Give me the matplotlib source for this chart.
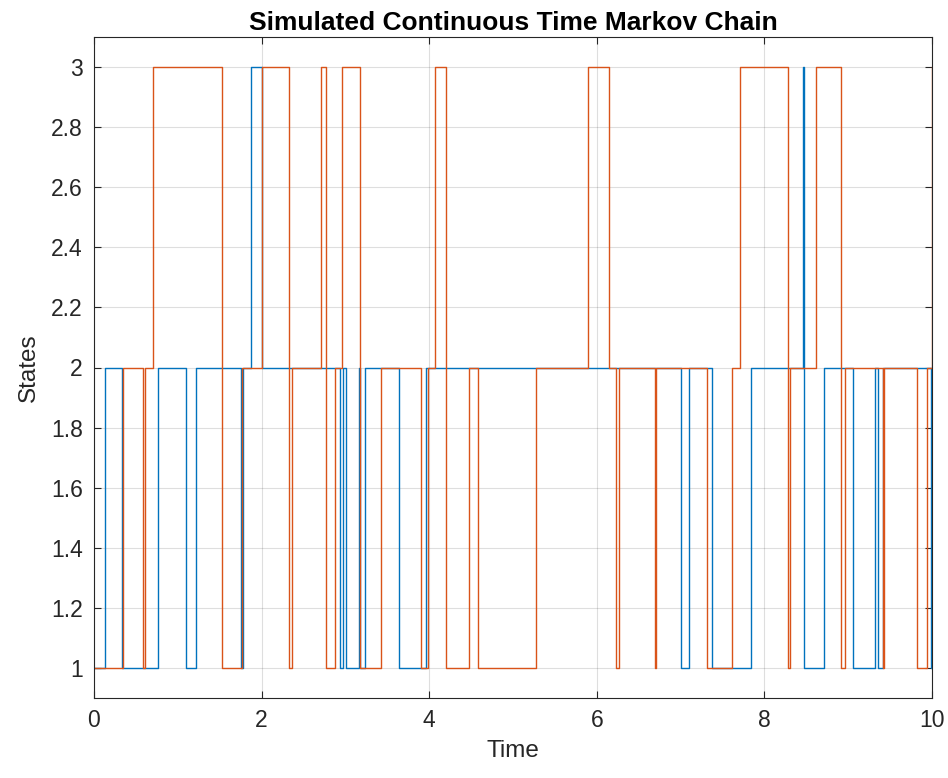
import numpy as np
import matplotlib
matplotlib.use("Agg")
import matplotlib.pyplot as plt

# jump times and the state entered at each time (stairs, post)
t1 = [0, 0.13, 0.335, 0.76, 1.10, 1.22, 1.755, 1.775, 1.873, 2.005, 2.93, 2.975,
      3.007, 3.16, 3.17, 3.23, 3.64, 3.96, 7.01, 7.10, 7.375, 7.84, 8.455, 8.475,
      8.71, 9.06, 9.32, 9.36, 9.42, 9.985, 10]
s1 = [1, 2, 1, 2, 1, 2, 1, 2, 3, 2, 1, 2,
      1, 2, 1, 2, 1, 2, 1, 2, 1, 2, 3, 1,
      2, 1, 2, 1, 2, 1, 1]

t2 = [0, 0.35, 0.58, 0.61, 0.71, 1.53, 1.765, 2.01, 2.325, 2.358, 2.713, 2.768,
      2.876, 2.963, 3.175, 3.42, 3.906, 3.985, 4.07, 4.20, 4.47, 4.58, 5.27, 5.89,
      6.15, 6.23, 6.27, 6.69, 6.71, 7.31, 7.61, 7.71, 8.285, 8.31, 8.61, 8.915,
      8.96, 9.41, 9.43, 9.82, 9.945, 9.995, 10]
s2 = [1, 2, 1, 2, 3, 1, 2, 3, 1, 2, 3, 1,
      2, 3, 1, 2, 1, 2, 3, 1, 2, 1, 2, 3,
      2, 1, 2, 1, 2, 1, 2, 3, 1, 2, 3, 1,
      2, 1, 2, 1, 2, 3, 3]

plt.rcParams["font.family"] = ["Liberation Sans", "DejaVu Sans"]

fig = plt.figure(figsize=(9.48, 7.78), dpi=100)
ax = fig.add_axes([94/948, 1-698/778, (932-94)/948, (698-37)/778])

ax.step(t1, s1, where="post", color="#0072BD", lw=1.0)
ax.step(t2, s2, where="post", color="#D95319", lw=1.0)

ax.set_xlim(0, 10)
ax.set_ylim(0.9, 3.1)
ax.set_xticks(np.arange(0, 11, 2))
yt = np.round(np.arange(1, 3.01, 0.2), 1)
ax.set_yticks(yt)
ax.set_yticklabels([("%g" % v) for v in yt])

ax.grid(True, color="#262626", alpha=0.15, lw=0.8)
ax.set_axisbelow(True)
for sp in ax.spines.values():
    sp.set_color("#262626")
    sp.set_linewidth(0.8)
ax.tick_params(direction="in", top=True, right=True, length=5,
               colors="#262626", labelsize=16.5, pad=8)

ax.set_xlabel("Time", fontsize=17.5, color="#262626", labelpad=6)
ax.set_ylabel("States", fontsize=17.5, color="#262626", labelpad=8)
ax.set_title("Simulated Continuous Time Markov Chain", fontsize=19,
             fontweight="bold", color="black", pad=5)

fig.savefig("out.png", dpi=100)
